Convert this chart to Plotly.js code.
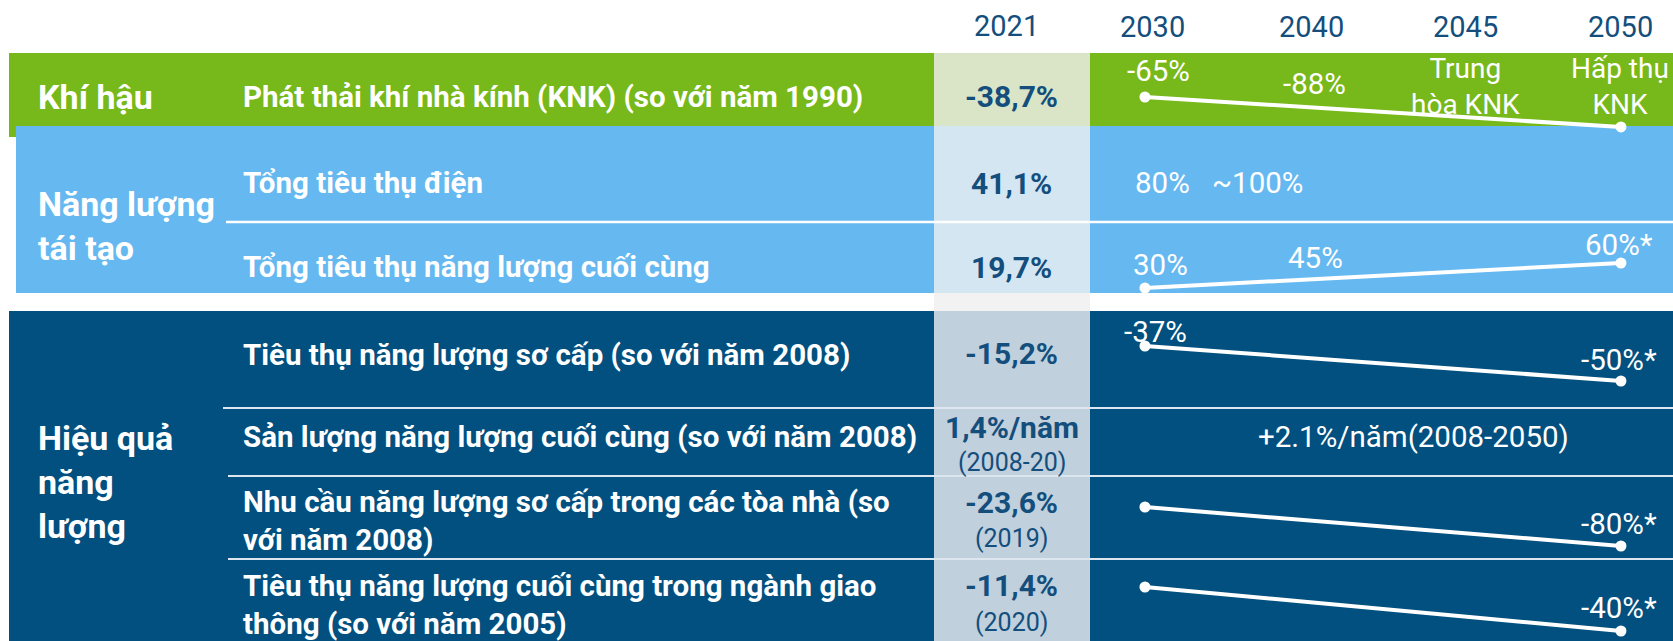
<!DOCTYPE html>
<html>
<head>
<meta charset="utf-8">
<script src="https://cdn.plot.ly/plotly-3.0.1.min.js"></script>
<style>html,body{margin:0;padding:0;background:#fff;}#chart{width:1673px;height:641px;}</style>
</head>
<body>
<div id="chart"></div>
<script>
// ---------- DATA ----------
const yearHeaders = ['2021', '2030', '2040', '2045', '2050'];
const timelineYears = ['2030', '2040', '2045', '2050'];
const categories = ['Khí hậu', 'Năng lượng<br>tái tạo', 'Hiệu quả<br>năng<br>lượng'];
const indicators = [
  'Phát thải khí nhà kính (KNK) (so với năm 1990)',
  'Tổng tiêu thụ điện',
  'Tổng tiêu thụ năng lượng cuối cùng',
  'Tiêu thụ năng lượng sơ cấp (so với năm 2008)',
  'Sản lượng năng lượng cuối cùng (so với năm 2008)',
  'Nhu cầu năng lượng sơ cấp trong các tòa nhà (so<br>với năm 2008)',
  'Tiêu thụ năng lượng cuối cùng trong ngành giao<br>thông (so với năm 2005)'
];
const values2021 = ['-38,7%', '41,1%', '19,7%', '-15,2%', '1,4%/năm', '-23,6%', '-11,4%'];
const notes2021 = ['', '', '', '', '(2008-20)', '(2019)', '(2020)'];

const trendYears = ['2030', '2050'];
const ghgTrend = [-65, -100];
const ghgLabels = ['-65%', '-88%', 'Trung<br>hòa KNK', 'Hấp thụ<br>KNK'];
const reElecLabels = ['80%', '~100%'];
const reFinalTrend = [30, 60];
const reFinalLabels = ['30%', '45%', '60%*'];
const primaryTrend = [-37, -50];
const primaryLabels = ['-37%', '-50%*'];
const finalProdLabel = '+2.1%/năm(2008-2050)';
const buildingsTrend = [-65, -80];
const buildingsLabels = ['-80%*'];
const transportTrend = [-25, -40];
const transportLabels = ['-40%*'];

// ---------- LAYOUT HELPERS ----------
const W = 1673, H = 641;
const px = x => x / W;
const py = y => 1 - y / H;
const dom = (top, bottom) => [1 - bottom / H, 1 - top / H];
const FONT = 'Roboto, "Liberation Sans", sans-serif';
const GREEN = '#77B81A', LBLUE = '#66B8F0', DBLUE = '#01507F', TXT = '#134E7D';

const shapes = [];
function rect(x0, y0, x1, y1, color) {
  shapes.push({type: 'rect', xref: 'paper', yref: 'paper', x0: px(x0), x1: px(x1), y0: py(y1), y1: py(y0),
    fillcolor: color, line: {width: 0}, layer: 'below'});
}
function hline(x0, x1, y, color, w) {
  shapes.push({type: 'line', xref: 'paper', yref: 'paper', x0: px(x0), x1: px(x1), y0: py(y), y1: py(y),
    line: {color: color, width: w}, layer: 'below'});
}
rect(9, 53, W, 137, GREEN);
rect(16, 126, W, 293, LBLUE);
rect(9, 311, W, H, DBLUE);
rect(934, 53, 1090, 126, '#D9E5C6');
rect(934, 126, 1090, 293, '#D5E6F3');
rect(934, 293, 1090, 311, '#F2F2F2');
rect(934, 311, 1090, H, '#C0D0DC');
hline(226, W, 222, '#FFFFFF', 2.5);
hline(223, W, 408, '#DDE6EE', 2);
hline(228, W, 476, '#DDE6EE', 2);
hline(228, W, 559, '#DDE6EE', 2);

const annotations = [];
function txt(text, x, y, size, color, bold, anchor) {
  annotations.push({xref: 'paper', yref: 'paper', x: px(x), y: py(y),
    text: bold ? '<b>' + text + '</b>' : text, showarrow: false, xanchor: anchor || 'center', yanchor: 'middle',
    align: anchor === 'left' ? 'left' : 'center',
    font: {family: FONT, size: size, color: color}});
}

// headers
const headerX = [1006, 1152, 1311, 1465, 1620];
yearHeaders.forEach((y, i) => txt(y, headerX[i], i === 0 ? 26 : 27, 29, TXT, false));

// categories
txt(categories[0], 36, 97, 34, '#FFFFFF', true, 'left');
txt(categories[1], 36, 226, 34, '#FFFFFF', true, 'left');
txt(categories[2], 36, 482, 34, '#FFFFFF', true, 'left');

// indicators
const indY = [97, 183, 267, 355, 437, 521, 605];
indicators.forEach((t, i) => txt(t, 241, indY[i], 29.5, '#FFFFFF', true, 'left'));

// 2021 values
const valY = [97, 183, 267, 353, 427, 502, 585];
values2021.forEach((v, i) => txt(v, 1012, valY[i], 30, TXT, true));
const noteY = [0, 0, 0, 0, 463, 538, 622];
notes2021.forEach((v, i) => { if (v) txt(v, 1012, noteY[i], 25, TXT, false); });

// trend labels
const LBL = 29.5;
const ghgPos = [[1158, 71], [1314, 84], [1465, 86], [1620, 86]];
ghgLabels.forEach((t, i) => txt(t, ghgPos[i][0], ghgPos[i][1], i >= 2 ? 28 : LBL, '#FFFFFF', false));
const reElecPos = [[1162, 183], [1257, 183]];
reElecLabels.forEach((t, i) => txt(t, reElecPos[i][0], reElecPos[i][1], LBL, '#FFFFFF', false));
const reFinalPos = [[1160, 265], [1315, 258], [1619, 245]];
reFinalLabels.forEach((t, i) => txt(t, reFinalPos[i][0], reFinalPos[i][1], LBL, '#FFFFFF', false));
const primaryPos = [[1155, 332], [1619, 360]];
primaryLabels.forEach((t, i) => txt(t, primaryPos[i][0], primaryPos[i][1], LBL, '#FFFFFF', false));
txt(finalProdLabel, 1413, 437, LBL, '#FFFFFF', false);
txt(buildingsLabels[0], 1619, 524, LBL, '#FFFFFF', false);
txt(transportLabels[0], 1619, 608, LBL, '#FFFFFF', false);

// ---------- TRACES ----------
const idx = ys => ys.map(y => timelineYears.indexOf(y));
function trend(vals, axis) {
  return {x: idx(trendYears), y: vals, xaxis: 'x', yaxis: axis, type: 'scatter', mode: 'lines+markers',
    line: {color: '#FFFFFF', width: 4}, marker: {color: '#FFFFFF', size: 11}, cliponaxis: false,
    hoverinfo: 'skip', showlegend: false};
}
const data = [
  trend(ghgTrend, 'y'),
  trend(reFinalTrend, 'y2'),
  trend(primaryTrend, 'y3'),
  trend(buildingsTrend, 'y4'),
  trend(transportTrend, 'y5')
];
const hidden = {visible: false, fixedrange: true};
const layout = {
  width: W, height: H,
  margin: {l: 0, r: 0, t: 0, b: 0},
  paper_bgcolor: '#FFFFFF', plot_bgcolor: 'rgba(0,0,0,0)',
  showlegend: false,
  xaxis: Object.assign({domain: [0, 1], range: [-7.216, 3.328], anchor: 'y'}, hidden),
  yaxis: Object.assign({domain: dom(53, 140), range: [-115.2, -13.66], anchor: 'x'}, hidden),
  yaxis2: Object.assign({domain: dom(222, 293), range: [24, 109.2], anchor: 'x'}, hidden),
  yaxis3: Object.assign({domain: dom(311, 408), range: [-60.03, -24.0], anchor: 'x'}, hidden),
  yaxis4: Object.assign({domain: dom(476, 559), range: [-85, -53.08], anchor: 'x'}, hidden),
  yaxis5: Object.assign({domain: dom(559, 641), range: [-43.41, -15.45], anchor: 'x'}, hidden),
  shapes: shapes,
  annotations: annotations
};
Plotly.newPlot('chart', data, layout, {displayModeBar: false, staticPlot: true});
</script>
</body>
</html>
